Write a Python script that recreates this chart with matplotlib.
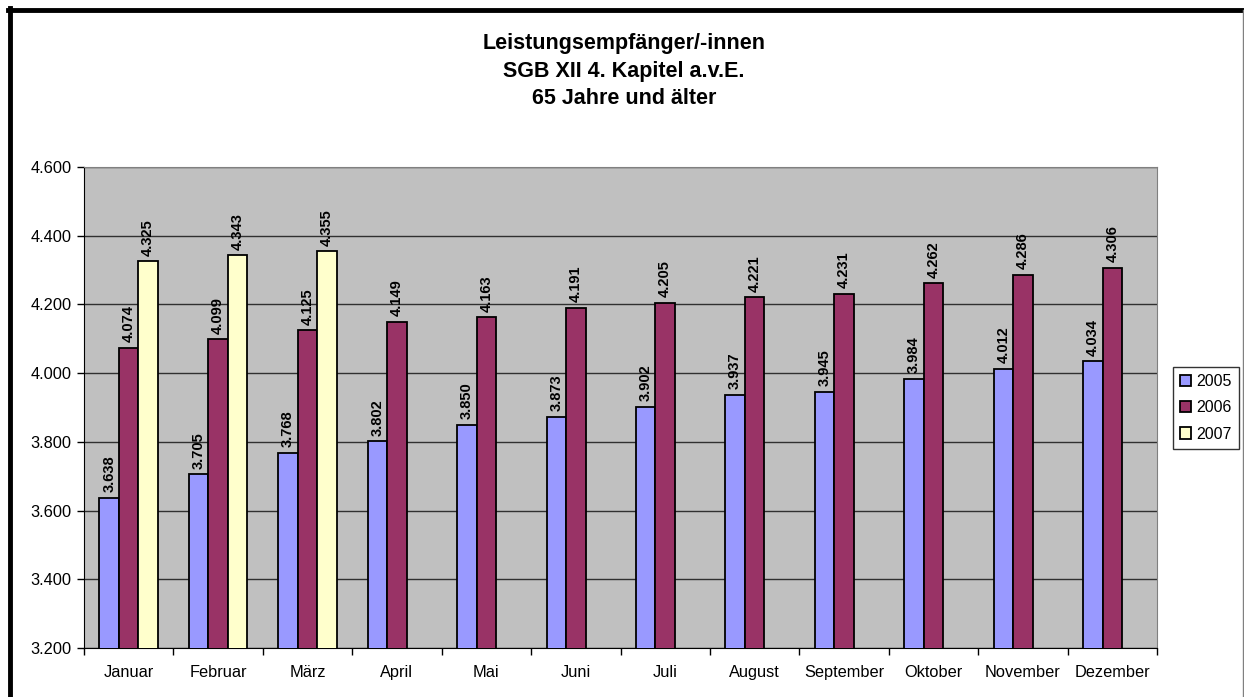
#------------------------------------------------------------------------------
# IMPORTS
#------------------------------------------------------------------------------
import numpy as np
import matplotlib
matplotlib.use("Agg")
from matplotlib import pyplot as plt
from matplotlib.lines import Line2D
from matplotlib.ticker import FuncFormatter, FixedLocator

#------------------------------------------------------------------------------
# DATA
#------------------------------------------------------------------------------
months = ["Januar", "Februar", "März", "April", "Mai", "Juni", "Juli",
          "August", "September", "Oktober", "November", "Dezember"]
years = ["2005", "2006", "2007"]

values_2005 = [3638, 3705, 3768, 3802, 3850, 3873, 3902, 3937, 3945, 3984, 4012, 4034]
values_2006 = [4074, 4099, 4125, 4149, 4163, 4191, 4205, 4221, 4231, 4262, 4286, 4306]
values_2007 = [4325, 4343, 4355]

colors = ["#9999FF", "#993366", "#FFFFCC"]

title = "Leistungsempfänger/-innen\nSGB XII 4. Kapitel a.v.E.\n65 Jahre und älter"

#------------------------------------------------------------------------------
# FUNCTIONS
#------------------------------------------------------------------------------
def de_fmt(v, pos=None):
    return f"{v:,.0f}".replace(",", ".")

#------------------------------------------------------------------------------
# MAIN
#------------------------------------------------------------------------------
def main():
    plt.rcParams["font.family"] = ["Liberation Sans", "DejaVu Sans"]

    W, H = 1244, 697
    fig = plt.figure(figsize=(W / 100, H / 100), dpi=100)
    ax = fig.add_axes([84 / W, 1 - 648 / H, (1157 - 84) / W, (648 - 167) / H])
    ax.set_facecolor("#C0C0C0")

    x = np.arange(len(months))
    width = 0.218
    series = [values_2005, values_2006, values_2007]

    for i, (vals, col, lab) in enumerate(zip(series, colors, years)):
        pos = x[:len(vals)] + (i - 1) * width
        bars = ax.bar(pos, vals, width, color=col, edgecolor="black",
                      linewidth=1.3, label=lab, zorder=3)
        for b, v in zip(bars, vals):
            ax.annotate(de_fmt(v), (b.get_x() + b.get_width() / 2, v),
                        xytext=(0, 4), textcoords="offset points",
                        rotation=90, ha="center", va="bottom",
                        fontsize=10.5, fontweight="bold", zorder=4)

    ax.set_ylim(3200, 4600)
    ax.set_xlim(-0.5, len(months) - 0.5)
    ax.set_yticks(np.arange(3200, 4601, 200))
    ax.yaxis.set_major_formatter(FuncFormatter(de_fmt))
    ax.grid(axis="y", color="#303030", linewidth=1, zorder=1)

    ax.set_xticks(x)
    ax.set_xticklabels(months)
    ax.xaxis.set_minor_locator(FixedLocator(np.arange(-0.5, len(months), 1.0)))
    ax.tick_params(axis="x", which="major", length=0, pad=12, labelsize=11.8)
    ax.tick_params(axis="x", which="minor", length=5, direction="out", width=1)
    ax.tick_params(axis="y", length=5, direction="out", width=1, labelsize=11.8, pad=4)

    for side in ["top", "right"]:
        ax.spines[side].set_color("#808080")
    for side in ["left", "bottom"]:
        ax.spines[side].set_color("black")

    fig.text(0.5 * (84 + 1157) / W + 0.003, 1 - 33 / H, title, ha="center", va="top",
             fontsize=15.5, fontweight="bold", linespacing=1.42)

    ax.legend(loc="upper left", bbox_to_anchor=(1173 / W, 1 - 367 / H),
              bbox_transform=fig.transFigure, frameon=True, fancybox=False,
              edgecolor="black", fontsize=11.5, handlelength=0.7,
              handleheight=0.7, handletextpad=0.3, borderpad=0.45,
              labelspacing=0.7, borderaxespad=0)

    # chart border
    fig.add_artist(Line2D([10 / W, 10 / W], [0, 1 - 8 / H], color="black",
                          linewidth=3.5, transform=fig.transFigure))
    fig.add_artist(Line2D([8 / W, 1243 / W], [1 - 10 / H, 1 - 10 / H], color="black",
                          linewidth=3.5, transform=fig.transFigure))
    fig.add_artist(Line2D([1242.5 / W, 1242.5 / W], [0, 1 - 10 / H], color="#808080",
                          linewidth=1, transform=fig.transFigure))

    fig.savefig("out.png", dpi=100)

#------------------------------------------------------------------------------
if __name__ == '__main__':
    main()
